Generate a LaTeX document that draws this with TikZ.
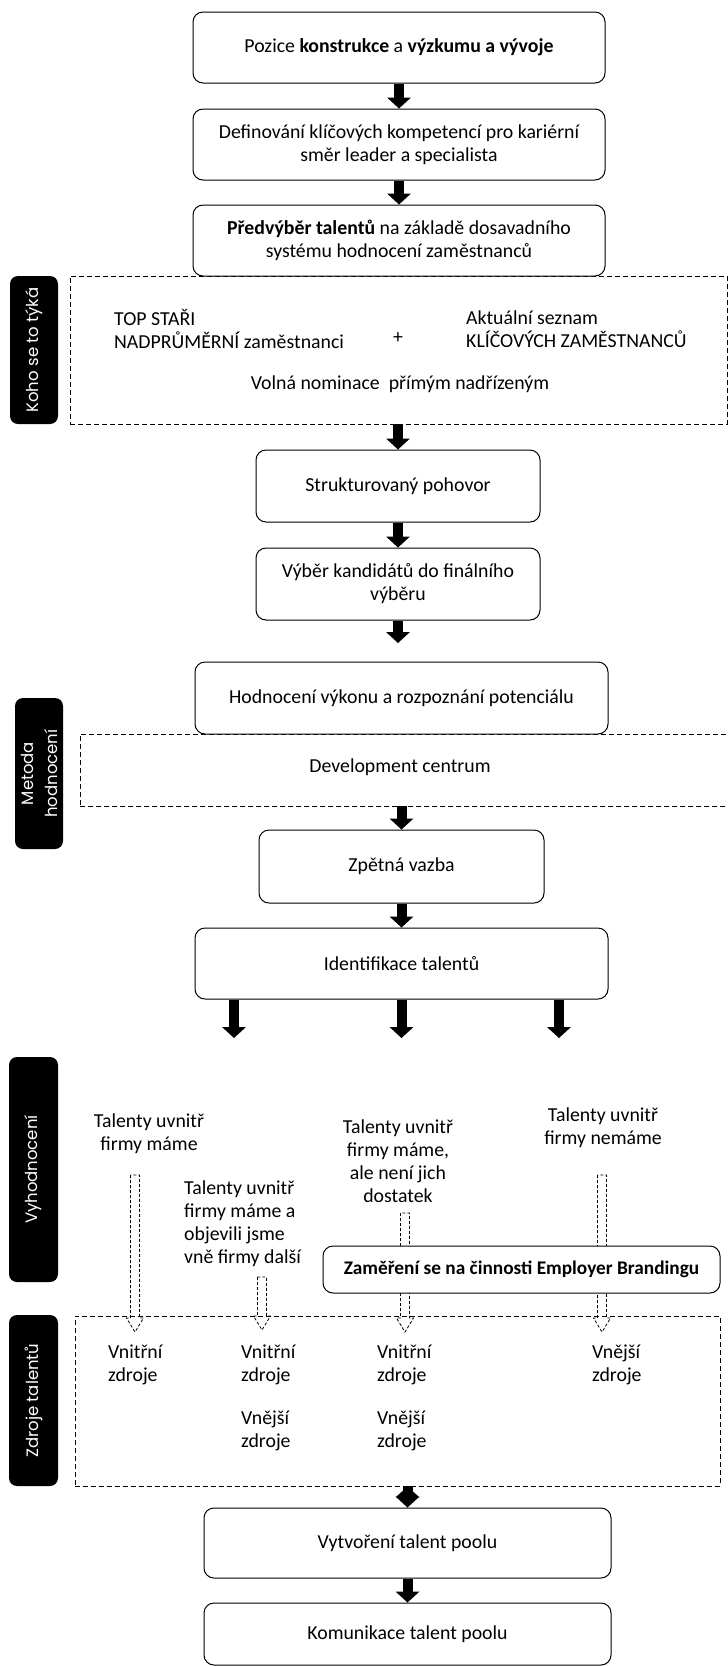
\documentclass[tikz,border=0pt]{standalone}
\usepackage{fontspec}
\setmainfont{Carlito}
\newfontfamily\labelfont{Poppins}
\usetikzlibrary{arrows.meta,calc}

\tikzset{
	box/.style={draw, rounded corners=10pt, fill=white, align=center, line width=1pt, inner sep=2pt},
	zone/.style={draw, dash pattern=on 5pt off 3pt, line width=0.9pt},
	side/.style={fill=black, rounded corners=8pt, text=white, rotate=90, align=center, inner sep=0pt, font=\labelfont\fontsize{16.5}{24}\selectfont},
	txt/.style={inner sep=0pt},
	bigarrow/.style={line width=10pt, -{Triangle[length=11pt,width=24pt,line width=0pt]}},
	hollow/.style={dash pattern=on 3pt off 2pt, line width=0.8pt}
}

\begin{document}
\begin{tikzpicture}[x=1pt, y=-1pt, font=\fontsize{19.8}{23}\selectfont]
		\useasboundingbox (0,0) rectangle (728,1666);

		\draw (398.5,350) node [zone, minimum width=657pt, minimum height=148pt] (koho) {};
		\draw (407.5,770) node [zone, minimum width=655pt, minimum height=72pt] (dev) {};
		\draw (397.5,1401) node [zone, minimum width=645pt, minimum height=170pt] (zdroje) {};

		\draw (34,350) node [side, minimum width=148pt, minimum height=48pt] (lkoho) {Koho se to týká};
		\draw (39,773.5) node [side, minimum width=151pt, minimum height=48pt] (lmetoda) {Metoda\\hodnocení};
		\draw (33.5,1169.5) node [side, minimum width=225pt, minimum height=49pt] (lvyhod) {Vyhodnocení};
		\draw (33.5,1400.5) node [side, minimum width=171pt, minimum height=49pt] (lzdroje) {Zdroje talentů};

		\coordinate (h1) at (135,1175);
		\coordinate (e1) at (135,1332);
		\coordinate (h2) at (262,1277);
		\coordinate (e2) at (262,1330);
		\coordinate (h3) at (405,1213);
		\coordinate (e3) at (405,1332);
		\coordinate (h4) at (602,1175);
		\coordinate (e4) at (602,1332);
		\foreach \st/\en in {h1/e1,h2/e2,h3/e3,h4/e4}
			\draw[hollow] ($(\st)+(-4.5,0)$) -- ($(\en)+(-4.5,-14)$) -- ($(\en)+(-8.5,-14)$) -- (\en)
				-- ($(\en)+(8.5,-14)$) -- ($(\en)+(4.5,-14)$) -- ($(\st)+(4.5,0)$) -- cycle;

		\draw (399,47.5) node [box, minimum width=412pt, minimum height=71pt] (pozice) {Pozice \textbf{konstrukce} a \textbf{výzkumu a vývoje}};
		\draw (399,144.5) node [box, minimum width=412pt, minimum height=71pt] (kompet) {Definování klíčových kompetencí pro kariérní\\směr leader a specialista};
		\draw (399,240.5) node [box, minimum width=412pt, minimum height=71pt] (predvyb) {\textbf{Předvýběr talentů} na základě dosavadního\\systému hodnocení zaměstnanců};
		\draw (398,486) node [box, minimum width=284pt, minimum height=72pt] (strukt) {Strukturovaný pohovor};
		\draw (398,584) node [box, minimum width=284pt, minimum height=72pt] (vyber) {Výběr kandidátů do finálního\\výběru};
		\draw (401.5,698) node [box, minimum width=413pt, minimum height=72pt] (hodnoc) {Hodnocení výkonu a rozpoznání potenciálu};
		\draw (401.5,866.5) node [box, minimum width=285pt, minimum height=73pt] (zpetna) {Zpětná vazba};
		\draw (401.5,963.5) node [box, minimum width=413pt, minimum height=71pt] (ident) {Identifikace talentů};
		\draw (521.5,1269.5) node [box, minimum width=397pt, minimum height=47pt, font=\fontsize{19.3}{23}\selectfont] (zamer) {\textbf{Zaměření se na činnosti Employer Brandingu}};
		\draw (407.5,1543) node [box, minimum width=407pt, minimum height=70pt] (vytvor) {Vytvoření talent poolu};
		\draw (407.5,1634) node [box, minimum width=407pt, minimum height=62pt] (komun) {Komunikace talent poolu};

		\draw (114,329) node [txt, anchor=west, align=left] (top) {TOP STAŘI\\NADPRŮMĚRNÍ zaměstnanci};
		\draw (398,338) node [txt] (plus) {+};
		\draw (466,329) node [txt, anchor=west, align=left] (aktual) {Aktuální seznam\\KLÍČOVÝCH ZAMĚSTNANCŮ};
		\draw (400,384) node [txt] (volna) {Volná nominace\ \ přímým nadřízeným};
		\draw (400,767) node [txt] (devcentr) {Development centrum};

		\draw (149,1134) node [txt, align=center] (t1) {Talenty uvnitř\\firmy máme};
		\draw (184,1224) node [txt, anchor=west, align=left] (t2) {Talenty uvnitř\\firmy máme a\\objevili jsme\\vně firmy další};
		\draw (398,1161) node [txt, align=center] (t3) {Talenty uvnitř\\firmy máme,\\ale není jich\\dostatek};
		\draw (603,1128) node [txt, align=center] (t4) {Talenty uvnitř\\firmy nemáme};

		\draw (108,1365) node [txt, anchor=west, align=left] (z1) {Vnitřní\\zdroje};
		\draw (241,1398) node [txt, anchor=west, align=left] (z2) {Vnitřní\\zdroje\\[20pt]Vnější\\zdroje};
		\draw (377,1398) node [txt, anchor=west, align=left] (z3) {Vnitřní\\zdroje\\[20pt]Vnější\\zdroje};
		\draw (592,1365) node [txt, anchor=west, align=left] (z4) {Vnější\\zdroje};

		\coordinate (vend) at (398,643);
		\coordinate (i1) at (234,1038);
		\coordinate (i2) at (401.5,1038);
		\coordinate (i3) at (559,1038);

		\draw[bigarrow]
			(pozice) edge (kompet)
			(kompet) edge (predvyb)
			(koho.south -| strukt) edge (strukt)
			(strukt) edge (vyber)
			(vyber) edge (vend)
			(dev.south -| zpetna) edge (zpetna)
			(zpetna) edge (ident)
			(ident.south -| i1) edge (i1)
			(ident.south -| i2) edge (i2)
			(ident.south -| i3) edge (i3)
			(zdroje.south -| vytvor) edge (vytvor)
			(vytvor) edge (komun)
		;
	\end{tikzpicture}
\end{document}
